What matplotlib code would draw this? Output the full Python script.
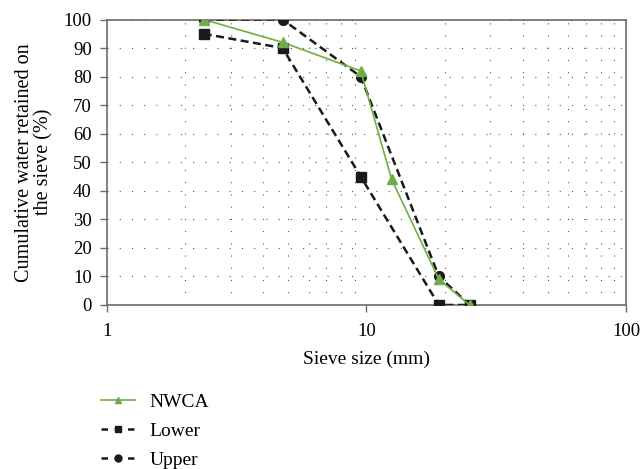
import matplotlib
matplotlib.use("Agg")
import matplotlib.pyplot as plt
from matplotlib.lines import Line2D
from matplotlib.ticker import FixedLocator, NullFormatter, LogLocator

plt.rcParams['font.family'] = ['Liberation Serif', 'DejaVu Serif']

sieve_nwca = [2.36, 4.75, 9.5, 12.5, 19, 25]
nwca = [100, 92, 82, 44, 9, 0]
sieve_limits = [2.36, 4.75, 9.5, 19, 25]
lower = [95, 90, 45, 0, 0]
upper = [100, 100, 80, 10, 0]
x_ticks = [1, 10, 100]
y_ticks = list(range(0, 101, 10))

green = '#70AD47'
dark = '#1a1a1a'
spine_c = '#6b6b6b'
dash = (0, (3.2, 1.8))

fig = plt.figure(figsize=(6.41, 4.69), dpi=100)
ax = fig.add_axes([0.1669, 0.3497, 0.8097, 0.6087])

ax.set_xscale('log')
ax.set_xlim(1, 100)
ax.set_ylim(0, 100)

ax.plot(sieve_nwca, nwca, color=green, lw=1.2, marker='^', ms=7,
        markerfacecolor=green, markeredgecolor=green, zorder=4)
ax.plot(sieve_limits, lower, color=dark, lw=1.8, ls=dash, marker='s', ms=7, zorder=3)
ax.plot(sieve_limits, upper, color=dark, lw=1.8, ls=dash, marker='o', ms=7, zorder=3)

ax.xaxis.set_major_locator(FixedLocator(x_ticks))
ax.set_xticklabels([str(v) for v in x_ticks])
ax.xaxis.set_minor_locator(LogLocator(base=10, subs=range(2, 10)))
ax.xaxis.set_minor_formatter(NullFormatter())
ax.set_yticks(y_ticks)

ax.grid(which='minor', axis='x', color='#555555', lw=0.8, ls=(0, (1, 10)))
ax.grid(which='major', axis='y', color='#555555', lw=0.8, ls=(0, (1, 10)))
ax.tick_params(axis='x', which='minor', length=0)
ax.tick_params(axis='both', which='major', direction='out', length=5, width=1,
               color=spine_c, labelsize=13.5)
ax.tick_params(axis='x', which='major', pad=8)
ax.tick_params(axis='y', which='major', pad=6)

for s in ax.spines.values():
    s.set_color(spine_c)
    s.set_linewidth(1.2)

ax.set_xlabel('Sieve size (mm)', fontsize=14, labelpad=8)
ax.set_ylabel('Cumulative water retained on\nthe sieve (%)', fontsize=14.5,
              labelpad=7, linespacing=1.05)

leg_dash = (0, (2.6, 2.7))
h1 = Line2D([], [], color=green, lw=1.2, marker='^', ms=5, mfc=green, mec=green)
h2 = Line2D([], [], color=dark, lw=1.8, ls=leg_dash, marker='s', ms=5)
h3 = Line2D([], [], color=dark, lw=1.8, ls=leg_dash, marker='o', ms=5)
fig.legend(handles=[h1, h2, h3], labels=['NWCA', 'Lower', 'Upper'],
           loc='upper left', bbox_to_anchor=(0.158, 0.162),
           frameon=False, fontsize=14, handlelength=1.75, labelspacing=0.6,
           borderaxespad=0, handletextpad=0.75, borderpad=0)
fig.savefig('out.png', dpi=100)
